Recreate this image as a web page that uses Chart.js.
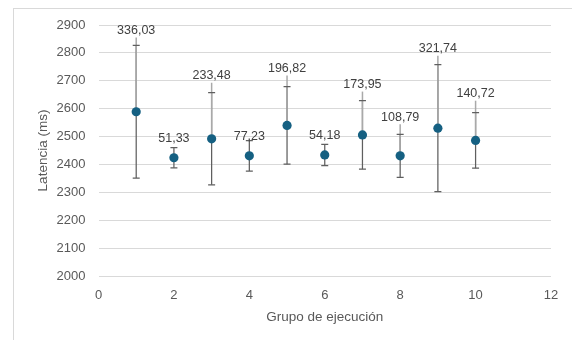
<!DOCTYPE html>
<html>
<head>
<meta charset="utf-8">
<script src="https://cdn.jsdelivr.net/npm/chart.js@4.4.1/dist/chart.umd.min.js"></script>
<style>
  html, body { margin: 0; padding: 0; background: #ffffff; }
  #wrap { position: relative; width: 572px; height: 340px; overflow: hidden; }
  #frame { position: absolute; left: 13px; top: 8px; width: 600px; height: 400px;
           border-left: 1px solid #d9d9d9; border-top: 1px solid #d9d9d9; box-sizing: border-box; }
  canvas { position: absolute; left: 0; top: 0; }
</style>
</head>
<body>
<div id="wrap">
  <div id="frame"></div>
  <canvas id="c" width="572" height="340"></canvas>
</div>
<script>
// Execution groups and measured latency (mean, ms)
const groups = [1, 2, 3, 4, 5, 6, 7, 8, 9, 10];
const meanLatency = [2589, 2424, 2492, 2431, 2540, 2434, 2506, 2431, 2530, 2486];
// Standard deviation per group (shown as the data labels)
const stdDev = [336.03, 51.33, 233.48, 77.23, 196.82, 54.18, 173.95, 108.79, 321.74, 140.72];
// Axis ticks
const xTicks = [0, 2, 4, 6, 8, 10, 12];
const yTicks = [2000, 2100, 2200, 2300, 2400, 2500, 2600, 2700, 2800, 2900];

// Error bars span ±sd/√2 around the mean
const errHalf = stdDev.map(s => s * Math.SQRT1_2);

// Manual label placement: pixels above the top of each error bar
const labelLift = [15, 9, 17, 4, 18, 9, 16, 17, 16, 19];

const FONT = '"Liberation Sans", Arial, sans-serif';
const fmt = v => v.toFixed(2).replace('.', ',');

const overlay = {
  id: 'errorBarsAndLabels',
  beforeDatasetsDraw(chart) {
    const { ctx, scales: { x, y } } = chart;
    ctx.save();
    groups.forEach((g, i) => {
      const px = x.getPixelForValue(g);
      const yTop = y.getPixelForValue(meanLatency[i] + errHalf[i]);
      const yBot = y.getPixelForValue(meanLatency[i] - errHalf[i]);
      const yMid = y.getPixelForValue(meanLatency[i]);
      // vertical error line
      ctx.strokeStyle = '#5f5f5f';
      ctx.lineWidth = 1.25;
      ctx.beginPath();
      ctx.moveTo(px, yTop);
      ctx.lineTo(px, yBot);
      ctx.stroke();
      // leader line from the label down to the point
      if (labelLift[i] > 12) {
        const labelBottom = yTop - labelLift[i] + 7;
        ctx.strokeStyle = '#a9a9a9';
        ctx.lineWidth = 1.5;
        ctx.beginPath();
        ctx.moveTo(px, labelBottom);
        ctx.lineTo(px, yMid);
        ctx.stroke();
      }
      // caps
      ctx.strokeStyle = '#5f5f5f';
      ctx.lineWidth = 1.25;
      ctx.beginPath();
      ctx.moveTo(px - 3.5, yTop); ctx.lineTo(px + 3.5, yTop);
      ctx.moveTo(px - 3.5, yBot); ctx.lineTo(px + 3.5, yBot);
      ctx.stroke();
    });
    ctx.restore();
  },
  afterDatasetsDraw(chart) {
    const { ctx, scales: { x, y } } = chart;
    ctx.save();
    ctx.font = '12.5px ' + FONT;
    ctx.fillStyle = '#404040';
    ctx.textAlign = 'center';
    ctx.textBaseline = 'middle';
    groups.forEach((g, i) => {
      const px = x.getPixelForValue(g);
      const yTop = y.getPixelForValue(meanLatency[i] + errHalf[i]);
      ctx.fillText(fmt(stdDev[i]), px, yTop - labelLift[i]);
    });
    // axis titles
    ctx.font = '13.5px ' + FONT;
    ctx.fillStyle = '#595959';
    ctx.fillText('Grupo de ejecución', (x.left + x.right) / 2, 317);
    ctx.translate(43, (y.top + y.bottom) / 2);
    ctx.rotate(-Math.PI / 2);
    ctx.fillText('Latencia (ms)', 0, 0);
    ctx.restore();
  }
};

new Chart(document.getElementById('c'), {
  type: 'scatter',
  data: {
    datasets: [{
      data: groups.map((g, i) => ({ x: g, y: meanLatency[i] })),
      backgroundColor: '#156082',
      borderWidth: 0,
      pointRadius: 4.6,
      pointHoverRadius: 4.6
    }]
  },
  options: {
    responsive: false,
    animation: false,
    devicePixelRatio: 1,
    layout: { padding: { top: 25, right: 21, left: 0, bottom: 0 } },
    plugins: { legend: { display: false }, tooltip: { enabled: false } },
    scales: {
      x: {
        type: 'linear',
        min: xTicks[0],
        max: xTicks[xTicks.length - 1],
        afterBuildTicks: s => { s.ticks = xTicks.map(v => ({ value: v })); },
        afterFit: s => { s.height = 64; },
        grid: { display: false, drawTicks: false },
        border: { display: false },
        ticks: { padding: 12, color: '#595959', font: { family: FONT, size: 13 },
                 callback: v => String(v) }
      },
      y: {
        type: 'linear',
        min: yTicks[0],
        max: yTicks[yTicks.length - 1],
        afterBuildTicks: s => { s.ticks = yTicks.map(v => ({ value: v })); },
        afterFit: s => { s.width = 98.5; },
        grid: { color: '#d9d9d9', lineWidth: 1, drawTicks: false },
        border: { display: false },
        ticks: { padding: 13, color: '#595959', font: { family: FONT, size: 13 },
                 callback: v => String(v) }
      }
    }
  },
  plugins: [overlay]
});
</script>
</body>
</html>
